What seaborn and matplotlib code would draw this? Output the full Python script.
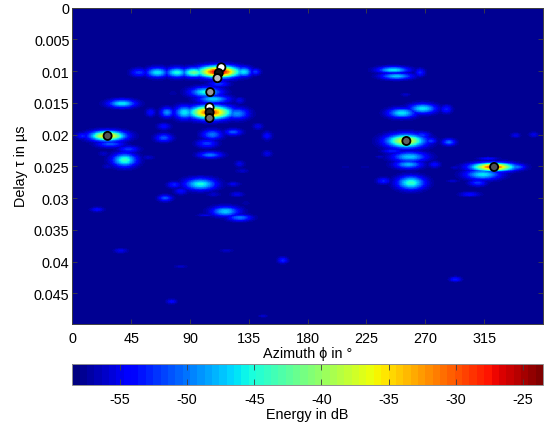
import numpy as np
import pandas as pd
import matplotlib
matplotlib.use("Agg")
import matplotlib.pyplot as plt
import seaborn as sns

# The smooth field between the peaks is rebuilt from these, it is not raw data.
blob_az = [51, 65, 80, 93, 112, 131, 140, 112, 102, 108, 38, 60, 72.5, 86, 105.5, 126,
           27, 8, 29, 43, 40, 70, 70, 107, 123, 103, 105.5, 142, 149, 149, 128, 130,
           24, 27, 58, 128, 77, 98, 78, 83, 71, 108, 123, 126, 19, 117, 128, 102, 133,
           37, 118, 161, 83, 76, 146, 245.5, 248, 266, 255, 252, 268, 286, 255, 267,
           274, 288, 245, 258, 257, 277, 235.5, 259, 238, 322, 340, 314, 310, 304,
           291, 318, 339, 353, 293, 209, 224, 293]
blob_delay = [.0102, .0102, .0102, .0102, .0101, .0101, .0101, .0120, .0133, .0144, .0151,
              .0165, .0165, .0165, .0165, .0167, .0202, .0202, .0215, .0223, .0240, .0205,
              .0187, .0200, .0196, .0214, .0232, .0187, .0202, .0230, .0246, .0257, .0230,
              .0250, .0236, .0146, .0135, .0278, .0279, .0289, .0300, .0294, .0278, .0294,
              .0318, .0321, .0331, .0327, .0308, .0383, .0383, .0398, .0408, .0463, .0486,
              .0098, .0108, .0102, .0137, .0166, .0159, .0160, .0210, .0201, .0210, .0212,
              .0226, .0235, .0247, .0247, .0235, .0276, .0273, .0251, .0251, .0263, .0276,
              .0294, .0273, .0238, .0201, .0200, .0252, .0251, .0251, .0428]
blob_db = [-52, -46, -45, -42, -25, -46, -52, -52, -45, -47, -46, -54, -49, -46, -29, -49,
           -34, -53, -51, -52, -44, -51, -54, -50, -51, -52, -50, -55, -54, -55, -55, -56,
           -56, -56, -56, -55, -57, -45, -53, -54, -51, -56, -55, -55, -54, -47, -50, -55,
           -57, -55, -56, -53, -56, -54, -56, -46, -47, -53, -56, -46, -46, -53, -36, -52,
           -52, -50, -53, -47, -48, -54, -56, -44, -53, -29, -50, -46, -52, -54, -56, -54,
           -55, -55, -56, -57, -57, -53]
blob_az_w = [5, 6.5, 6.5, 7, 12, 5, 3, 6, 9, 9, 8, 3, 4, 6, 12, 7,
             10, 4, 8, 6, 7, 5, 4, 6, 5, 6, 7, 3, 3, 3, 3, 4,
             3, 3, 4, 3, 3, 9, 4, 4, 4, 4, 4, 4, 4, 8, 7, 5, 3,
             4, 4, 3, 4, 3, 3, 9, 9, 3, 3, 8, 8, 3.5, 11, 5,
             3.5, 4, 6, 10, 8, 3.5, 3, 8, 4, 12, 5, 10, 5, 6,
             4, 6, 3, 3, 3, 3, 3, 3.5]
blob_delay_w = [.0005, .0006, .0006, .0006, .0007, .0006, .0004, .0004, .0006, .0005, .0005,
                .0005, .0006, .0008, .0008, .0007, .0006, .0004, .0004, .0004, .0008, .0005,
                .0004, .0006, .0004, .0005, .0004, .0004, .0005, .0004, .0004, .0003, .0003,
                .0003, .0003, .0004, .0003, .0007, .0004, .0004, .0004, .0003, .0003, .0003,
                .0003, .0006, .0004, .0002, .0003, .0003, .0002, .0004, .0002, .0003, .0002,
                .0004, .0004, .0005, .0002, .0006, .0006, .0005, .0008, .0004, .0004, .0004,
                .0003, .0006, .0005, .0004, .0002, .0008, .0004, .0005, .0004, .0006, .0004,
                .0003, .0002, .0002, .0003, .0003, .0002, .0002, .0002, .0003]

# detected paths, grey level of the marker face goes with the order in the list
path_az = [114, 112, 111, 105.5, 105, 105, 105, 27, 255.5, 322.6]
path_delay = [.0094, .0103, .0111, .0133, .0157, .0165, .0174, .0202, .0210, .0251]
path_grey = ["#ffffff", "#111111", "#bdbdbd", "#9a9a9a", "#ffffff", "#222222", "#6e6e6e",
             "#555555", "#606060", "#505050"]

az_ticks = [0, 45, 90, 135, 180, 225, 270, 315]
delay_ticks = [0, .005, .01, .015, .02, .025, .03, .035, .04, .045]
delay_labels = ["0", "0.005", "0.01", "0.015", "0.02", "0.025", "0.03", "0.035", "0.04", "0.045"]
db_ticks = [-55, -50, -45, -40, -35, -30, -25]
DB_MIN, DB_MAX = -58.55, -23.5
DELAY_MAX = 0.0498

# build the map
d_az, d_delay = 0.5, 0.0001
az = np.arange(0, 360, d_az) + d_az / 2
delay = np.arange(0, DELAY_MAX, d_delay) + d_delay / 2
A, D = np.meshgrid(az, delay)
energy = np.full(A.shape, -58.0)
for a, t, p, wa, wt in zip(blob_az, blob_delay, blob_db, blob_az_w, blob_delay_w):
    r2 = ((A - a) / wa) ** 2 + ((D - t) / wt) ** 2
    energy = np.maximum(energy, -58.0 + (p + 58.0) * np.exp(-0.65 * r2))
energy_df = pd.DataFrame(energy, index=delay, columns=az)

plt.rcParams['font.family'] = ['Liberation Sans', 'DejaVu Sans']

W, H = 551, 427
fig = plt.figure(figsize=(W / 100, H / 100), dpi=100)
ax = fig.add_axes([72.3 / W, 1 - 324.7 / H, 470.7 / W, 316 / H])
cax = fig.add_axes([72.3 / W, 1 - 386 / H, 470.7 / W, 21 / H])

cmap = plt.get_cmap('jet', 64)
sns.heatmap(energy_df, ax=ax, cmap=cmap, vmin=DB_MIN, vmax=DB_MAX, cbar_ax=cax,
            cbar_kws={'orientation': 'horizontal'}, xticklabels=False, yticklabels=False)

path_df = pd.DataFrame({'x': np.array(path_az) / d_az, 'y': np.array(path_delay) / d_delay})
sns.scatterplot(data=path_df, x='x', y='y', ax=ax, s=34, c=path_grey, edgecolor='black',
                linewidth=1.3, legend=False, zorder=5)

GREY = '#404040'
FS = 10.4
ax.set_xlim(0, len(az))
ax.set_ylim(DELAY_MAX / d_delay, 0)
ax.set_xticks(np.array(az_ticks) / d_az)
ax.set_xticklabels(az_ticks)
ax.set_yticks(np.array(delay_ticks) / d_delay)
ax.set_yticklabels(delay_labels)
ax.tick_params(direction='in', length=3.5, width=0.6, color=GREY, labelcolor='black',
               top=True, right=True, labelsize=FS)
ax.tick_params(axis='x', pad=5)
ax.tick_params(axis='y', pad=2)
# scatterplot hides the axis labels when the tick labels were off at call time
ax.set_xlabel('Azimuth ϕ in °', fontsize=FS, labelpad=1, visible=True)
ax.set_ylabel('Delay τ in µs', fontsize=FS, labelpad=4.5, visible=True)
for s in ax.spines.values():
    s.set_visible(True)
    s.set_linewidth(0.7)
    s.set_color(GREY)

cbar = ax.collections[0].colorbar
cbar.set_ticks(db_ticks)
cbar.set_ticklabels([str(v) for v in db_ticks])
cax.tick_params(direction='in', length=4, width=0.6, color=GREY, top=True, bottom=True,
                labelbottom=True, labelsize=FS, pad=5)
cax.set_xlabel('Energy in dB', fontsize=FS, labelpad=0.5)
cbar.outline.set_linewidth(0.7)
cbar.outline.set_edgecolor('#909090')

fig.savefig('out.png', dpi=100)
